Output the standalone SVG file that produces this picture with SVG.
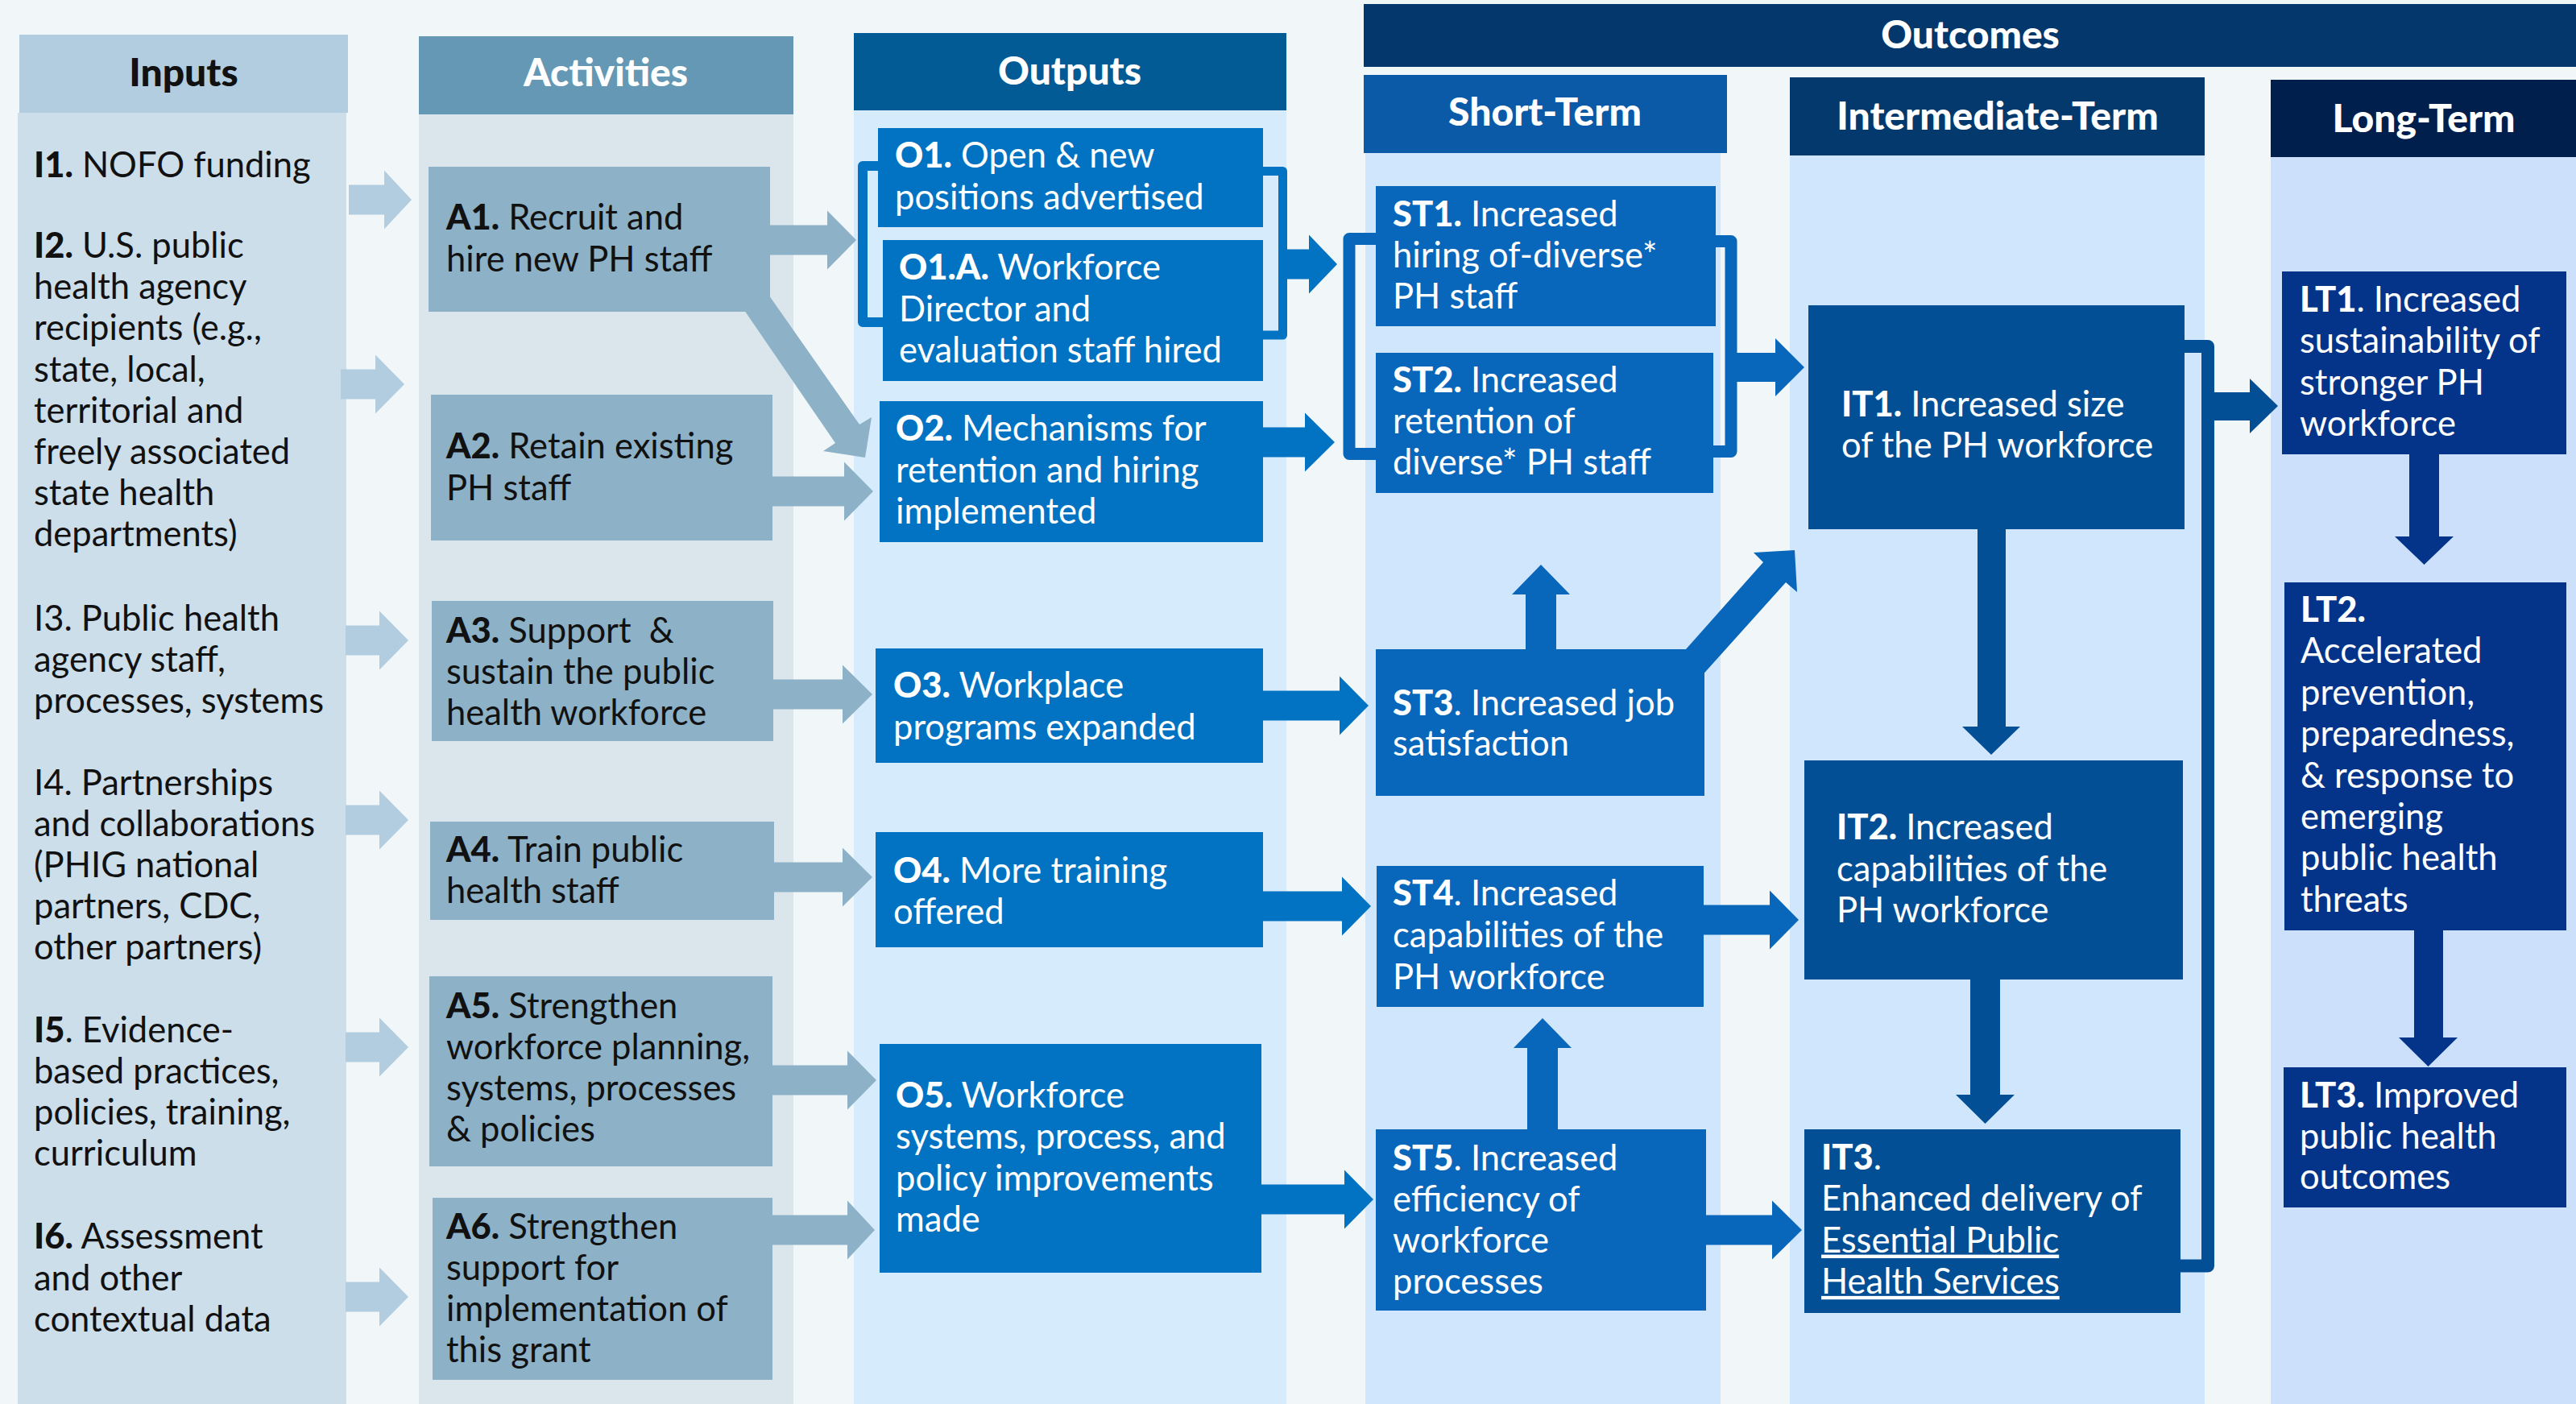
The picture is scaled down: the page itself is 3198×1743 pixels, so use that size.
<svg xmlns="http://www.w3.org/2000/svg" width="3198" height="1743" viewBox="0 0 3198 1743">
<style>
.t{font-family:Lato,"Liberation Sans",sans-serif;font-size:43.5px;}
.dk{fill:#111}
.wh{fill:#fff}
.b{font-weight:900}
.h{font-family:Lato,"Liberation Sans",sans-serif;font-size:48px;font-weight:900;text-anchor:middle}
.u{text-decoration:underline}
.ain{fill:#B2CDE0}
.aact{fill:#8DB1C6}
.aout{fill:#0173C2}
.ast{fill:#0866BB}
.ait{fill:#034F95}
.alt{fill:#03348A}
.brk{fill:none;stroke-linejoin:round}
</style>
<rect x="0" y="0" width="3198" height="1743" fill="#F1F6F9"/>
<g id="columns">
<rect x="22" y="140" width="408" height="1603" fill="#CCDEEA"/>
<rect x="24" y="43" width="408" height="97" fill="#B2CDE0"/>
<text class="h" x="228" y="107" fill="#111">Inputs</text>
<rect x="520" y="142" width="465" height="1601" fill="#DAE5EC"/>
<rect x="520" y="45" width="465" height="97" fill="#6598B5"/>
<text class="h" x="752" y="107" fill="#fff">Activities</text>
<rect x="1060" y="137" width="537" height="1606" fill="#D6EBFC"/>
<rect x="1060" y="41" width="537" height="96" fill="#035B96"/>
<text class="h" x="1328" y="105" fill="#fff">Outputs</text>
<rect x="1693" y="5" width="1505" height="78" fill="#04386C"/>
<text class="h" x="2446" y="60" fill="#fff">Outcomes</text>
<rect x="1695" y="190" width="441" height="1553" fill="#D0E6FC"/>
<rect x="1693" y="93" width="451" height="97" fill="#0A5AA8"/>
<text class="h" x="1918" y="156" fill="#fff">Short-Term</text>
<rect x="2222" y="193" width="515" height="1550" fill="#D0E6FC"/>
<rect x="2222" y="96" width="515" height="97" fill="#04396E"/>
<text class="h" x="2480" y="161" fill="#fff">Intermediate-Term</text>
<rect x="2819" y="195" width="379" height="1548" fill="#CDE0FB"/>
<rect x="2819" y="99" width="379" height="96" fill="#001F4C"/>
<text class="h" x="3009" y="164" fill="#fff">Long-Term</text>
</g>
<g id="connectors">
<!-- inputs to activities -->
<polygon class="ain" points="433,229.5 477,229.5 477,211.5 511,248 477,284.5 477,266.5 433,266.5"/>
<polygon class="ain" points="423,458.5 466,458.5 466,440.5 502,477 466,513.5 466,495.5 423,495.5"/>
<polygon class="ain" points="429,776.5 471,776.5 471,758.5 507,795 471,831.5 471,813.5 429,813.5"/>
<polygon class="ain" points="429,999.5 471,999.5 471,981.5 507,1018 471,1054.5 471,1036.5 429,1036.5"/>
<polygon class="ain" points="429,1281.5 471,1281.5 471,1263.5 507,1300 471,1336.5 471,1318.5 429,1318.5"/>
<polygon class="ain" points="429,1591.5 471,1591.5 471,1573.5 507,1610 471,1646.5 471,1628.5 429,1628.5"/>
<!-- activities to outputs -->
<polygon class="aact" points="950,279.5 1027,279.5 1027,261.5 1063,298 1027,334.5 1027,316.5 950,316.5"/>
<polygon class="aact" points="943,350 1067,527 1082,518 1074,568 1022,560 1037,550 915,372"/>
<polygon class="aact" points="955,591.5 1048,591.5 1048,573.5 1084,610 1048,646.5 1048,628.5 955,628.5"/>
<polygon class="aact" points="955,843.5 1046,843.5 1046,825.5 1083,862 1046,898.5 1046,880.5 955,880.5"/>
<polygon class="aact" points="955,1070.5 1046,1070.5 1046,1052.5 1083,1089 1046,1125.5 1046,1107.5 955,1107.5"/>
<polygon class="aact" points="955,1322.5 1052,1322.5 1052,1304.5 1088,1341 1052,1377.5 1052,1359.5 955,1359.5"/>
<polygon class="aact" points="955,1508.5 1052,1508.5 1052,1490.5 1086,1527 1052,1563.5 1052,1545.5 955,1545.5"/>
<!-- outputs bracket and arrows -->
<path class="brk" d="M1095,206 H1071 V400 H1100" stroke="#0173C2" stroke-width="12"/>
<path class="brk" d="M1560,212.5 H1592.5 V416 H1560" stroke="#0173C2" stroke-width="11"/>
<polygon class="aout" points="1596,309.5 1625,309.5 1625,291.5 1660,328 1625,364.5 1625,346.5 1596,346.5"/>
<polygon class="aout" points="1565,530.5 1620,530.5 1620,512.5 1657,549 1620,585.5 1620,567.5 1565,567.5"/>
<polygon class="aout" points="1565,857.5 1663,857.5 1663,839.5 1699,876 1663,912.5 1663,894.5 1565,894.5"/>
<polygon class="aout" points="1565,1106.5 1666,1106.5 1666,1088.5 1702,1125 1666,1161.5 1666,1143.5 1565,1143.5"/>
<polygon class="aout" points="1563,1470.5 1669,1470.5 1669,1452.5 1705,1489 1669,1525.5 1669,1507.5 1563,1507.5"/>
<!-- short-term bracket and arrows -->
<path class="brk" d="M1712,296.5 H1675 V563.5 H1712" stroke="#0866BB" stroke-width="15"/>
<path class="brk" d="M2122,299.5 H2149 V560.5 H2122" stroke="#0866BB" stroke-width="15"/>
<polygon class="ast" points="2155,438 2204,438 2204,420 2240,456 2204,492 2204,474 2155,474"/>
<polygon class="ast" points="1894,810 1894,738 1877,738 1913,701 1949,738 1932,738 1932,810"/>
<polygon class="ast" points="2085,815 2189,698 2177,686 2228,683 2231,735 2217,723 2110,842"/>
<polygon class="ast" points="2110,1123.5 2197,1123.5 2197,1105.5 2233,1142 2197,1178.5 2197,1160.5 2110,1160.5"/>
<polygon class="ast" points="1896,1406 1896,1301 1879,1301 1915,1264 1951,1301 1934,1301 1934,1406"/>
<polygon class="ast" points="2112,1508.5 2200,1508.5 2200,1490.5 2237,1527 2200,1563.5 2200,1545.5 2112,1545.5"/>
<!-- intermediate arrows and bracket -->
<polygon class="ait" points="2455,652 2490,652 2490,902 2508,902 2472,937 2436,902 2455,902"/>
<polygon class="ait" points="2446,1212 2483,1212 2483,1359 2501,1359 2464.5,1395 2428,1359 2446,1359"/>
<path class="brk" d="M2705,430 H2741 V1571.5 H2700" stroke="#034F95" stroke-width="16"/>
<polygon class="ait" points="2745,487 2793,487 2793,470 2828,504 2793,538 2793,522 2745,522"/>
<!-- long-term arrows -->
<polygon class="alt" points="2991,560 3028,560 3028,666 3046,666 3009.5,701 2973,666 2991,666"/>
<polygon class="alt" points="2997,1155 3033,1155 3033,1288 3051,1288 3014.5,1324 2978,1288 2997,1288"/>
</g>
<g id="I1"><text class="t dk" x="42" y="220"><tspan class="b">I1.</tspan> NOFO funding</text></g>
<g id="I2"><text class="t dk" x="42" y="320"><tspan class="b">I2.</tspan> U.S. public<tspan x="42" dy="51.2">health agency</tspan><tspan x="42" dy="51.2">recipients (e.g.,</tspan><tspan x="42" dy="51.2">state, local,</tspan><tspan x="42" dy="51.2">territorial and</tspan><tspan x="42" dy="51.2">freely associated</tspan><tspan x="42" dy="51.2">state health</tspan><tspan x="42" dy="51.2">departments)</tspan></text></g>
<g id="I3"><text class="t dk" x="42" y="783">I3. Public health<tspan x="42" dy="51">agency staff,</tspan><tspan x="42" dy="51">processes, systems</tspan></text></g>
<g id="I4"><text class="t dk" x="42" y="987">I4. Partnerships<tspan x="42" dy="51">and collaborations</tspan><tspan x="42" dy="51">(PHIG national</tspan><tspan x="42" dy="51">partners, CDC,</tspan><tspan x="42" dy="51">other partners)</tspan></text></g>
<g id="I5"><text class="t dk" x="42" y="1294"><tspan class="b">I5</tspan>. Evidence-<tspan x="42" dy="51">based practices,</tspan><tspan x="42" dy="51">policies, training,</tspan><tspan x="42" dy="51">curriculum</tspan></text></g>
<g id="I6"><text class="t dk" x="42" y="1550"><tspan class="b">I6.</tspan> Assessment<tspan x="42" dy="51.5">and other</tspan><tspan x="42" dy="51.5">contextual data</tspan></text></g>

<g id="A1"><rect x="532" y="207" width="424" height="180" fill="#8DB1C6"/><text class="t dk" x="554" y="285"><tspan class="b">A1.</tspan> Recruit and<tspan x="554" dy="52">hire new PH staff</tspan></text></g>
<g id="A2"><rect x="535" y="490" width="424" height="181" fill="#8DB1C6"/><text class="t dk" x="554" y="569"><tspan class="b">A2.</tspan> Retain existing<tspan x="554" dy="52">PH staff</tspan></text></g>
<g id="A3"><rect x="536" y="746" width="424" height="174" fill="#8DB1C6"/><text class="t dk" x="554" y="798" xml:space="preserve"><tspan class="b">A3.</tspan> Support  &amp;<tspan x="554" dy="51">sustain the public</tspan><tspan x="554" dy="51">health workforce</tspan></text></g>
<g id="A4"><rect x="534" y="1020" width="427" height="122" fill="#8DB1C6"/><text class="t dk" x="554" y="1070"><tspan class="b">A4.</tspan> Train public<tspan x="554" dy="51">health staff</tspan></text></g>
<g id="A5"><rect x="533" y="1212" width="426" height="236" fill="#8DB1C6"/><text class="t dk" x="554" y="1264"><tspan class="b">A5.</tspan> Strengthen<tspan x="554" dy="51">workforce planning,</tspan><tspan x="554" dy="51">systems, processes</tspan><tspan x="554" dy="51">&amp; policies</tspan></text></g>
<g id="A6"><rect x="537" y="1487" width="422" height="226" fill="#8DB1C6"/><text class="t dk" x="554" y="1538"><tspan class="b">A6.</tspan> Strengthen<tspan x="554" dy="51">support for</tspan><tspan x="554" dy="51">implementation of</tspan><tspan x="554" dy="51">this grant</tspan></text></g>

<g id="O1"><rect x="1090" y="159" width="478" height="123" fill="#0173C2"/><text class="t wh" x="1111" y="208"><tspan class="b">O1.</tspan> Open &amp; new<tspan x="1111" dy="52">positions advertised</tspan></text></g>
<g id="O1A"><rect x="1096" y="298" width="472" height="175" fill="#0173C2"/><text class="t wh" x="1116" y="347"><tspan class="b">O1.A.</tspan> Workforce<tspan x="1116" dy="51.5">Director and</tspan><tspan x="1116" dy="51.5">evaluation staff hired</tspan></text></g>
<g id="O2"><rect x="1092" y="498" width="476" height="175" fill="#0173C2"/><text class="t wh" x="1112" y="547"><tspan class="b">O2.</tspan> Mechanisms for<tspan x="1112" dy="51.5">retention and hiring</tspan><tspan x="1112" dy="51.5">implemented</tspan></text></g>
<g id="O3"><rect x="1087" y="805" width="481" height="142" fill="#0173C2"/><text class="t wh" x="1109" y="866"><tspan class="b">O3.</tspan> Workplace<tspan x="1109" dy="52">programs expanded</tspan></text></g>
<g id="O4"><rect x="1087" y="1033" width="481" height="143" fill="#0173C2"/><text class="t wh" x="1109" y="1096"><tspan class="b">O4.</tspan> More training<tspan x="1109" dy="51">offered</tspan></text></g>
<g id="O5"><rect x="1092" y="1296" width="474" height="284" fill="#0173C2"/><text class="t wh" x="1112" y="1375"><tspan class="b">O5.</tspan> Workforce<tspan x="1112" dy="51.3">systems, process, and</tspan><tspan x="1112" dy="51.3">policy improvements</tspan><tspan x="1112" dy="51.3">made</tspan></text></g>

<g id="ST1"><rect x="1708" y="231" width="422" height="174" fill="#0866BB"/><text class="t wh" x="1729" y="281"><tspan class="b">ST1.</tspan> Increased<tspan x="1729" dy="51">hiring of-diverse*</tspan><tspan x="1729" dy="51">PH staff</tspan></text></g>
<g id="ST2"><rect x="1708" y="438" width="419" height="174" fill="#0866BB"/><text class="t wh" x="1729" y="487"><tspan class="b">ST2.</tspan> Increased<tspan x="1729" dy="51">retention of</tspan><tspan x="1729" dy="51">diverse* PH staff</tspan></text></g>
<g id="ST3"><rect x="1708" y="806" width="408" height="182" fill="#0866BB"/><text class="t wh" x="1729" y="888"><tspan class="b">ST3</tspan>. Increased job<tspan x="1729" dy="50">satisfaction</tspan></text></g>
<g id="ST4"><rect x="1709" y="1075" width="406" height="175" fill="#0866BB"/><text class="t wh" x="1729" y="1124"><tspan class="b">ST4</tspan>. Increased<tspan x="1729" dy="52">capabilities of the</tspan><tspan x="1729" dy="52">PH workforce</tspan></text></g>
<g id="ST5"><rect x="1708" y="1402" width="410" height="225" fill="#0866BB"/><text class="t wh" x="1729" y="1453"><tspan class="b">ST5</tspan>. Increased<tspan x="1729" dy="51">efficiency of</tspan><tspan x="1729" dy="51">workforce</tspan><tspan x="1729" dy="51">processes</tspan></text></g>

<g id="IT1"><rect x="2245" y="379" width="467" height="278" fill="#034F95"/><text class="t wh" x="2286" y="517"><tspan class="b">IT1.</tspan> Increased size<tspan x="2286" dy="50.5">of the PH workforce</tspan></text></g>
<g id="IT2"><rect x="2240" y="944" width="470" height="272" fill="#034F95"/><text class="t wh" x="2280" y="1042"><tspan class="b">IT2.</tspan> Increased<tspan x="2280" dy="51.5">capabilities of the</tspan><tspan x="2280" dy="51.5">PH workforce</tspan></text></g>
<g id="IT3"><rect x="2240" y="1402" width="467" height="228" fill="#034F95"/><text class="t wh" x="2261" y="1452"><tspan class="b">IT3</tspan>.<tspan x="2261" dy="51.3">Enhanced delivery of</tspan><tspan x="2261" dy="51.3" class="u">Essential Public</tspan><tspan x="2261" dy="51.3" class="u">Health Services</tspan></text></g>

<g id="LT1"><rect x="2833" y="337" width="353" height="227" fill="#03348A"/><text class="t wh" x="2855" y="387"><tspan class="b">LT1</tspan>. Increased<tspan x="2855" dy="51.3">sustainability of</tspan><tspan x="2855" dy="51.3">stronger PH</tspan><tspan x="2855" dy="51.3">workforce</tspan></text></g>
<g id="LT2"><rect x="2836" y="723" width="350" height="432" fill="#03348A"/><text class="t wh" x="2856" y="772"><tspan class="b">LT2.</tspan><tspan x="2856" dy="51.4">Accelerated</tspan><tspan x="2856" dy="51.4">prevention,</tspan><tspan x="2856" dy="51.4">preparedness,</tspan><tspan x="2856" dy="51.4">&amp; response to</tspan><tspan x="2856" dy="51.4">emerging</tspan><tspan x="2856" dy="51.4">public health</tspan><tspan x="2856" dy="51.4">threats</tspan></text></g>
<g id="LT3"><rect x="2835" y="1325" width="351" height="174" fill="#03348A"/><text class="t wh" x="2855" y="1375"><tspan class="b">LT3.</tspan> Improved<tspan x="2855" dy="50.5">public health</tspan><tspan x="2855" dy="50.5">outcomes</tspan></text></g>
</svg>
